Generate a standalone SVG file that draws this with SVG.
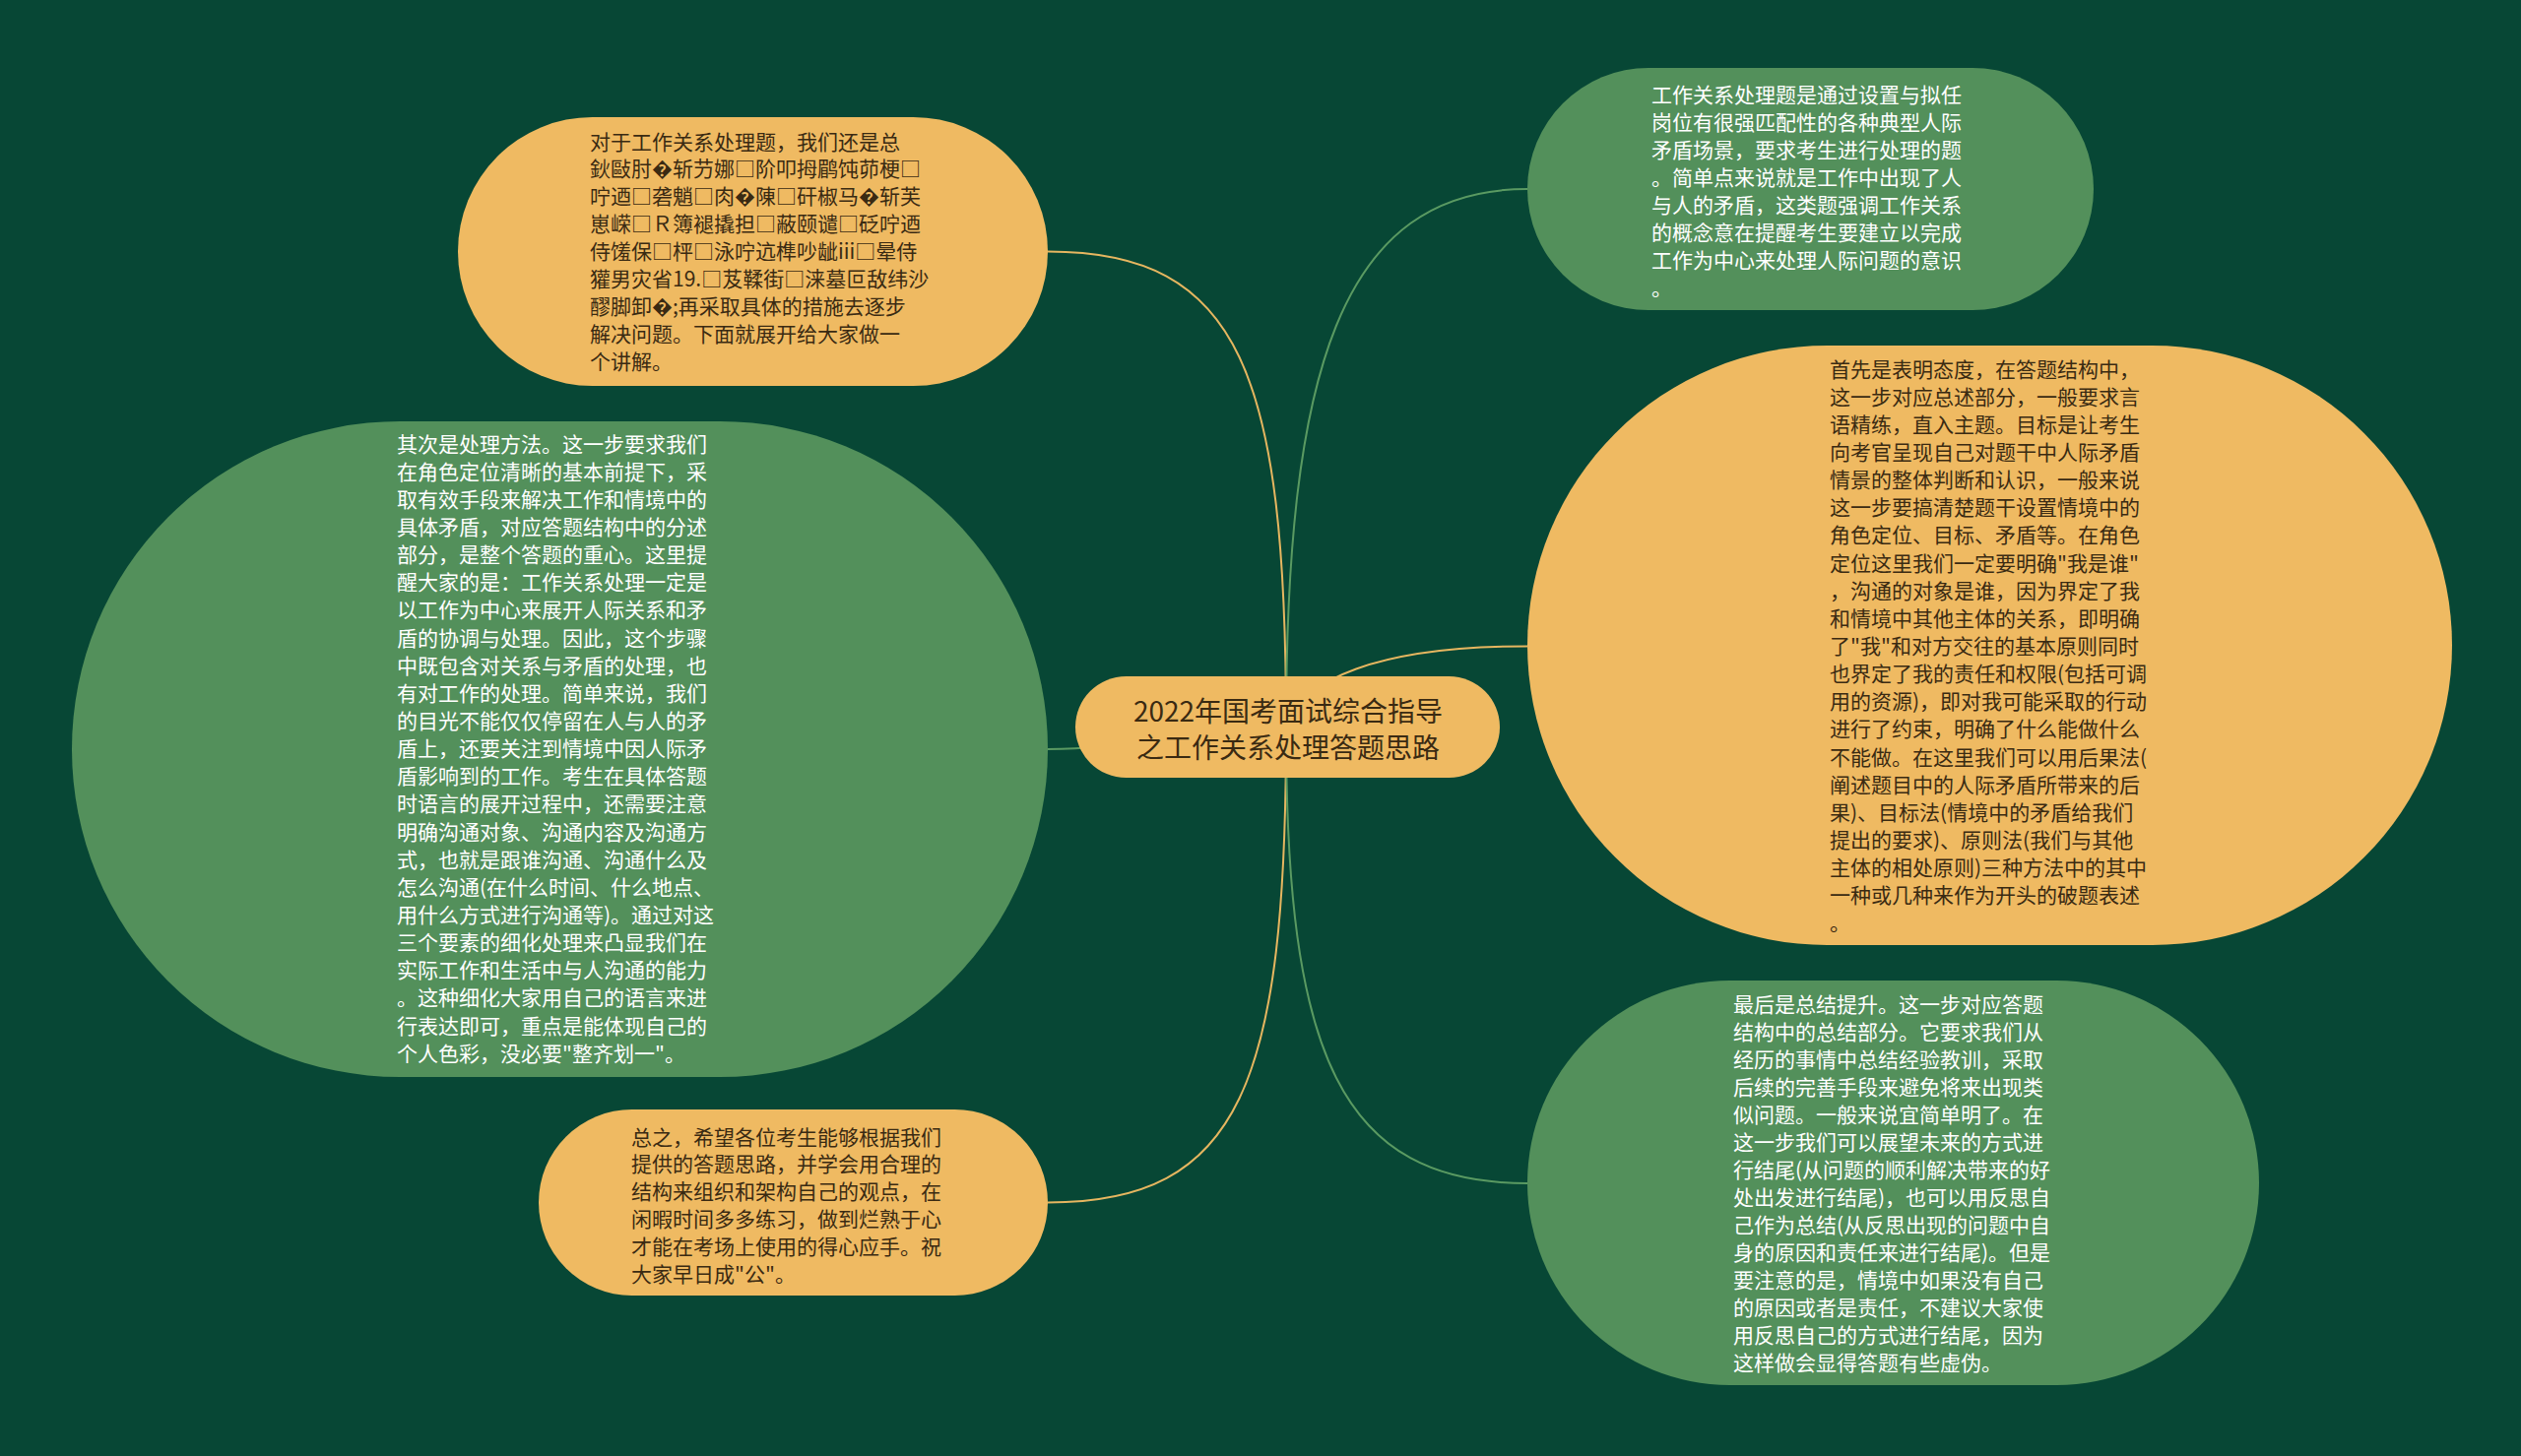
<svg xmlns="http://www.w3.org/2000/svg" width="2560" height="1479" viewBox="0 0 2560 1479">
<style>
.bg{fill:#074735}
.ny{fill:#EFBA62}
.ng{fill:#53905B}
.t{font-family:"Noto Sans CJK SC","Noto Sans",sans-serif;font-size:21px}
.td{fill:#3A2A12}
.tw{fill:#FFFFFF}
.tc{font-family:"Noto Sans CJK SC","Noto Sans",sans-serif;font-size:28px;fill:#3A2A12;text-anchor:middle}
.cy{fill:none;stroke:#E6B660;stroke-width:2}
.cg{fill:none;stroke:#5A9A62;stroke-width:2}
</style>
<rect class="bg" x="0" y="0" width="2560" height="1479"/>
<g id="connectors">
<path class="cy" d="M1306 740 C1306 380 1260 255.5 1064 255.5"/>
<path class="cg" d="M1306 740 C1200 740 1150 761 1064 761"/>
<path class="cy" d="M1306 740 C1306 1100 1260 1221.5 1064 1221.5"/>
<path class="cg" d="M1306 740 C1306 380 1360 192 1551 192"/>
<path class="cy" d="M1306 740 C1320 690 1400 656.5 1551 656.5"/>
<path class="cg" d="M1306 740 C1306 1070 1360 1202 1551 1202"/>
</g>
<g id="node-center">
<rect class="ny" x="1092" y="687" width="431" height="103" rx="51.5" ry="51.5"/>
<text class="tc"><tspan x="1308" y="733">2022年国考面试综合指导</tspan><tspan x="1308" y="770">之工作关系处理答题思路</tspan></text>
</g>
<g id="node-1">
<rect class="ny" x="465" y="119" width="599" height="273" rx="136.5" ry="136.5"/>
<text class="t td">
<tspan x="599" y="151.5">对于工作关系处理题，我们还是总</tspan>
<tspan x="599" dy="27.9">鈥敺肘�斩芀娜□阶叩拇鹛饨茆梗□</tspan>
<tspan x="599" dy="27.9">咛迺□砻魈□肉�陳□矸椒马�斩芙</tspan>
<tspan x="599" dy="27.9">崽嵘□Ｒ簿褪撬担□蔽颐谴□砭咛迺</tspan>
<tspan x="599" dy="27.9">侍馐保□枰□泳咛迒榫吵龇iii□晕侍</tspan>
<tspan x="599" dy="27.9">獾男灾省19.□芨鞣街□涞墓叵敌纬沙</tspan>
<tspan x="599" dy="27.9">醪脚卸�;再采取具体的措施去逐步</tspan>
<tspan x="599" dy="27.9">解决问题。下面就展开给大家做一</tspan>
<tspan x="599" dy="27.9">个讲解。</tspan>
</text>
</g>
<g id="node-2">
<rect class="ng" x="73" y="428" width="991" height="666" rx="333" ry="333"/>
<text class="t tw">
<tspan x="403" y="458.5">其次是处理方法。这一步要求我们</tspan>
<tspan x="403" dy="28.15">在角色定位清晰的基本前提下，采</tspan>
<tspan x="403" dy="28.15">取有效手段来解决工作和情境中的</tspan>
<tspan x="403" dy="28.15">具体矛盾，对应答题结构中的分述</tspan>
<tspan x="403" dy="28.15">部分，是整个答题的重心。这里提</tspan>
<tspan x="403" dy="28.15">醒大家的是：工作关系处理一定是</tspan>
<tspan x="403" dy="28.15">以工作为中心来展开人际关系和矛</tspan>
<tspan x="403" dy="28.15">盾的协调与处理。因此，这个步骤</tspan>
<tspan x="403" dy="28.15">中既包含对关系与矛盾的处理，也</tspan>
<tspan x="403" dy="28.15">有对工作的处理。简单来说，我们</tspan>
<tspan x="403" dy="28.15">的目光不能仅仅停留在人与人的矛</tspan>
<tspan x="403" dy="28.15">盾上，还要关注到情境中因人际矛</tspan>
<tspan x="403" dy="28.15">盾影响到的工作。考生在具体答题</tspan>
<tspan x="403" dy="28.15">时语言的展开过程中，还需要注意</tspan>
<tspan x="403" dy="28.15">明确沟通对象、沟通内容及沟通方</tspan>
<tspan x="403" dy="28.15">式，也就是跟谁沟通、沟通什么及</tspan>
<tspan x="403" dy="28.15">怎么沟通(在什么时间、什么地点、</tspan>
<tspan x="403" dy="28.15">用什么方式进行沟通等)。通过对这</tspan>
<tspan x="403" dy="28.15">三个要素的细化处理来凸显我们在</tspan>
<tspan x="403" dy="28.15">实际工作和生活中与人沟通的能力</tspan>
<tspan x="403" dy="28.15">。这种细化大家用自己的语言来进</tspan>
<tspan x="403" dy="28.15">行表达即可，重点是能体现自己的</tspan>
<tspan x="403" dy="28.15">个人色彩，没必要"整齐划一"。</tspan>
</text>
</g>
<g id="node-3">
<rect class="ny" x="547" y="1127" width="517" height="189" rx="94.5" ry="94.5"/>
<text class="t td">
<tspan x="641" y="1162.5">总之，希望各位考生能够根据我们</tspan>
<tspan x="641" dy="27.8">提供的答题思路，并学会用合理的</tspan>
<tspan x="641" dy="27.8">结构来组织和架构自己的观点，在</tspan>
<tspan x="641" dy="27.8">闲暇时间多多练习，做到烂熟于心</tspan>
<tspan x="641" dy="27.8">才能在考场上使用的得心应手。祝</tspan>
<tspan x="641" dy="27.8">大家早日成"公"。</tspan>
</text>
</g>
<g id="node-4">
<rect class="ng" x="1551" y="69" width="575" height="246" rx="123" ry="123"/>
<text class="t tw">
<tspan x="1677" y="104">工作关系处理题是通过设置与拟任</tspan>
<tspan x="1677" dy="28">岗位有很强匹配性的各种典型人际</tspan>
<tspan x="1677" dy="28">矛盾场景，要求考生进行处理的题</tspan>
<tspan x="1677" dy="28">。简单点来说就是工作中出现了人</tspan>
<tspan x="1677" dy="28">与人的矛盾，这类题强调工作关系</tspan>
<tspan x="1677" dy="28">的概念意在提醒考生要建立以完成</tspan>
<tspan x="1677" dy="28">工作为中心来处理人际问题的意识</tspan>
<tspan x="1677" dy="28">。</tspan>
</text>
</g>
<g id="node-5">
<rect class="ny" x="1551" y="351" width="939" height="609" rx="304.5" ry="304.5"/>
<text class="t td">
<tspan x="1858" y="382.5">首先是表明态度，在答题结构中，</tspan>
<tspan x="1858" dy="28.15">这一步对应总述部分，一般要求言</tspan>
<tspan x="1858" dy="28.15">语精练，直入主题。目标是让考生</tspan>
<tspan x="1858" dy="28.15">向考官呈现自己对题干中人际矛盾</tspan>
<tspan x="1858" dy="28.15">情景的整体判断和认识，一般来说</tspan>
<tspan x="1858" dy="28.15">这一步要搞清楚题干设置情境中的</tspan>
<tspan x="1858" dy="28.15">角色定位、目标、矛盾等。在角色</tspan>
<tspan x="1858" dy="28.15">定位这里我们一定要明确"我是谁"</tspan>
<tspan x="1858" dy="28.15">，沟通的对象是谁，因为界定了我</tspan>
<tspan x="1858" dy="28.15">和情境中其他主体的关系，即明确</tspan>
<tspan x="1858" dy="28.15">了"我"和对方交往的基本原则同时</tspan>
<tspan x="1858" dy="28.15">也界定了我的责任和权限(包括可调</tspan>
<tspan x="1858" dy="28.15">用的资源)，即对我可能采取的行动</tspan>
<tspan x="1858" dy="28.15">进行了约束，明确了什么能做什么</tspan>
<tspan x="1858" dy="28.15">不能做。在这里我们可以用后果法(</tspan>
<tspan x="1858" dy="28.15">阐述题目中的人际矛盾所带来的后</tspan>
<tspan x="1858" dy="28.15">果)、目标法(情境中的矛盾给我们</tspan>
<tspan x="1858" dy="28.15">提出的要求)、原则法(我们与其他</tspan>
<tspan x="1858" dy="28.15">主体的相处原则)三种方法中的其中</tspan>
<tspan x="1858" dy="28.15">一种或几种来作为开头的破题表述</tspan>
<tspan x="1858" dy="28.15">。</tspan>
</text>
</g>
<g id="node-6">
<rect class="ng" x="1551" y="996" width="743" height="411" rx="205.5" ry="205.5"/>
<text class="t tw">
<tspan x="1760" y="1027.5">最后是总结提升。这一步对应答题</tspan>
<tspan x="1760" dy="28">结构中的总结部分。它要求我们从</tspan>
<tspan x="1760" dy="28">经历的事情中总结经验教训，采取</tspan>
<tspan x="1760" dy="28">后续的完善手段来避免将来出现类</tspan>
<tspan x="1760" dy="28">似问题。一般来说宜简单明了。在</tspan>
<tspan x="1760" dy="28">这一步我们可以展望未来的方式进</tspan>
<tspan x="1760" dy="28">行结尾(从问题的顺利解决带来的好</tspan>
<tspan x="1760" dy="28">处出发进行结尾)，也可以用反思自</tspan>
<tspan x="1760" dy="28">己作为总结(从反思出现的问题中自</tspan>
<tspan x="1760" dy="28">身的原因和责任来进行结尾)。但是</tspan>
<tspan x="1760" dy="28">要注意的是，情境中如果没有自己</tspan>
<tspan x="1760" dy="28">的原因或者是责任，不建议大家使</tspan>
<tspan x="1760" dy="28">用反思自己的方式进行结尾，因为</tspan>
<tspan x="1760" dy="28">这样做会显得答题有些虚伪。</tspan>
</text>
</g>
</svg>
